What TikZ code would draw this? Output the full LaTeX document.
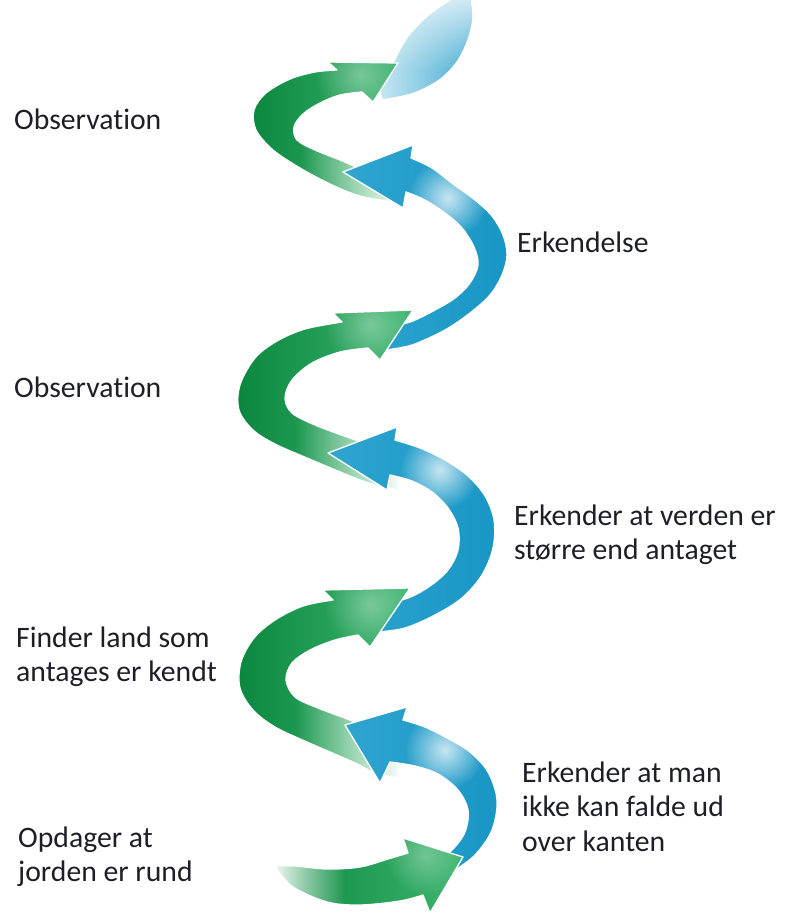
\documentclass[tikz,border=0pt]{standalone}
\usepackage{fontspec}
\setmainfont{Carlito}[Ligatures={NoCommon,NoContextual,NoRequired}]
\usetikzlibrary{fadings}
\tikzfading[name=fadeLR, left color=transparent!100, right color=transparent!0]
\tikzfading[name=fadeRL, left color=transparent!0, right color=transparent!100]
\tikzfading[name=fadeTop, top color=transparent!0, bottom color=transparent!100]
\tikzfading[name=glow, inner color=transparent!0, outer color=transparent!100]
\definecolor{gdark}{RGB}{10,135,62}
\definecolor{gmid}{RGB}{62,182,112}
\definecolor{bmid}{RGB}{48,165,208}
\definecolor{bdeep}{RGB}{24,150,197}
\definecolor{bpale}{RGB}{200,232,243}
\definecolor{bsoft}{RGB}{70,172,210}
\definecolor{txt}{RGB}{30,30,40}
\tikzset{
  lbl/.style={anchor=base west, inner sep=0pt, text=txt, font=\fontsize{29.7}{34.5}\selectfont},
  rim/.style={draw=white, line width=1.3pt, line join=round}
}
\newcommand\shpBzero[1]{\path[#1] plot[smooth,tension=0.55] coordinates {(383,99) (412,93) (438,80) (456,62) (467,40) (472,18) (470,-2)} -- plot[smooth,tension=0.55] coordinates {(455,-2) (430,15) (410,35) (398,55) (388,75) (380,90)} -- cycle;}
\newcommand\shpGone[1]{\path[#1] plot[smooth,tension=0.55] coordinates {(400,203) (360,196) (330,184) (300,168) (273,150) (256,130) (254,110) (266,93) (290,79) (315,72) (337,70)} -- (328,62) -- (398,63) -- (373,102) -- plot[smooth,tension=0.55] coordinates {(362,92) (340,95) (320,103) (303,114) (294,127) (297,140) (315,150) (340,160) (367,172) (392,184) (402,190)} -- cycle;}
\newcommand\shpBone[1]{\path[#1] plot[smooth,tension=0.55] coordinates {(385,350) (412,345) (445,330) (470,313) (490,295) (502,275) (507,255) (503,235) (492,216) (475,200) (453,184) (432,168) (411,158)} -- (413,145) -- (343,172) -- (403,208) -- plot[smooth,tension=0.55] coordinates {(406,192) (425,200) (445,213) (462,228) (474,247) (478,265) (470,283) (455,298) (435,310) (410,322) (385,327)} -- cycle;}
\newcommand\shpGtwo[1]{\path[#1] plot[smooth,tension=0.55] coordinates {(398,490) (372,484) (350,476) (307,458) (275,444) (253,430) (239,410) (240,385) (255,358) (277,341) (305,329) (342,322)} -- (333,313) -- (413,310) -- (380,360) -- plot[smooth,tension=0.55] coordinates {(368,348) (340,352) (312,363) (292,380) (285,398) (292,413) (315,425) (347,437) (375,447) (400,460)} -- cycle;}
\newcommand\shpBtwo[1]{\path[#1] plot[smooth,tension=0.55] coordinates {(378,632) (405,628) (435,615) (462,598) (482,575) (493,548) (494,520) (485,496) (468,476) (445,460) (420,448) (395,440)} -- (397,427) -- (328,453) -- (387,490) -- plot[smooth,tension=0.55] coordinates {(390,475) (412,481) (432,492) (448,508) (458,528) (458,550) (448,570) (430,586) (408,598) (378,606)} -- cycle;}
\newcommand\shpGthree[1]{\path[#1] plot[smooth,tension=0.55] coordinates {(398,778) (375,773) (353,762) (307,742) (275,727) (253,710) (240,688) (241,662) (254,638) (275,620) (303,606) (333,600)} -- (323,590) -- (410,588) -- (370,647) -- plot[smooth,tension=0.55] coordinates {(358,635) (335,640) (310,650) (292,663) (286,680) (295,697) (318,708) (350,720) (378,731) (400,745)} -- cycle;}
\newcommand\shpBthree[1]{\path[#1] plot[smooth,tension=0.55] coordinates {(425,888) (452,872) (475,855) (492,830) (497,800) (488,772) (470,752) (447,738) (425,727) (403,720)} -- (407,707) -- (345,725) -- (380,783) -- plot[smooth,tension=0.55] coordinates {(390,762) (415,766) (438,774) (458,790) (468,810) (465,832) (452,850) (435,862) (418,870)} -- cycle;}
\newcommand\shpGfour[1]{\path[#1] plot[smooth,tension=0.55] coordinates {(276,866) (295,866) (327,869) (360,867) (388,859) (408,853)} -- (403,838) -- (463,857) -- (430,913) -- plot[smooth,tension=0.55] coordinates {(423,895) (400,901) (360,905) (327,902) (293,887) (276,868)} -- cycle;}
\begin{document}
\begin{tikzpicture}[x=1pt,y=-1pt]
\useasboundingbox (0,0) rectangle (785,915);
% top blue tail
\begin{scope}
\shpBzero{clip}
\shade[left color=bpale, right color=bsoft] (378,0) rectangle (473,102);
\fill[white, opacity=0.75, path fading=fadeTop] (370,-2) rectangle (480,70);
\end{scope}
% green 1
\begin{scope}
\shpGone{clip}
\shade[left color=gdark, right color=gmid] (250,55) rectangle (405,210);
\fill[white, opacity=0.35, path fading=glow] (360,75) circle (45);
\fill[white, path fading=fadeLR] (300,140) rectangle (406,215);
\end{scope}
\shpGone{rim}
% blue 1
\begin{scope}
\shpBone{clip}
\shade[left color=bmid, right color=bdeep] (340,140) rectangle (510,352);
\fill[white, opacity=0.75, path fading=glow] (448,198) circle (40);
\end{scope}
\shpBone{rim}
% green 2
\begin{scope}
\shpGtwo{clip}
\shade[left color=gdark, right color=gmid] (236,305) rectangle (415,495);
\fill[white, opacity=0.35, path fading=glow] (370,325) circle (45);
\fill[white, path fading=fadeLR] (295,420) rectangle (404,500);
\end{scope}
\shpGtwo{rim}
% blue 2
\begin{scope}
\shpBtwo{clip}
\shade[left color=bmid, right color=bdeep] (325,420) rectangle (497,635);
\fill[white, opacity=0.75, path fading=glow] (440,470) circle (40);
\end{scope}
\shpBtwo{rim}
% green 3
\begin{scope}
\shpGthree{clip}
\shade[left color=gdark, right color=gmid] (236,585) rectangle (412,782);
\fill[white, opacity=0.35, path fading=glow] (370,605) circle (45);
\fill[white, path fading=fadeLR] (295,700) rectangle (404,785);
\end{scope}
\shpGthree{rim}
% blue 3
\begin{scope}
\shpBthree{clip}
\shade[left color=bmid, right color=bdeep] (340,700) rectangle (500,892);
\fill[white, opacity=0.75, path fading=glow] (445,750) circle (40);
\end{scope}
\shpBthree{rim}
% green 4
\begin{scope}
\shpGfour{clip}
\shade[left color=gdark, right color=gmid] (272,835) rectangle (465,915);
\fill[white, opacity=0.3, path fading=glow] (425,855) circle (40);
\fill[white, path fading=fadeRL] (270,845) rectangle (345,912);
\end{scope}
\shpGfour{rim}
% labels
\node[lbl] (obs1) at (14,129) {Observation};
\node[lbl] (erk1) at (517,252) {Erkendelse};
\node[lbl] (obs2) at (14,397) {Observation};
\node[lbl] (erk2) at (514,525) {\begin{tabular}[t]{@{}l@{}}Erkender at verden er\\større end antaget\end{tabular}};
\node[lbl] (find) at (16,647) {\begin{tabular}[t]{@{}l@{}}Finder land som\\antages er kendt\end{tabular}};
\node[lbl] (erk3) at (522,782) {\begin{tabular}[t]{@{}l@{}}Erkender at man\\ikke kan falde ud\\over kanten\end{tabular}};
\node[lbl] (opd) at (18,847) {\begin{tabular}[t]{@{}l@{}}Opdager at\\jorden er rund\end{tabular}};
\end{tikzpicture}
\end{document}
